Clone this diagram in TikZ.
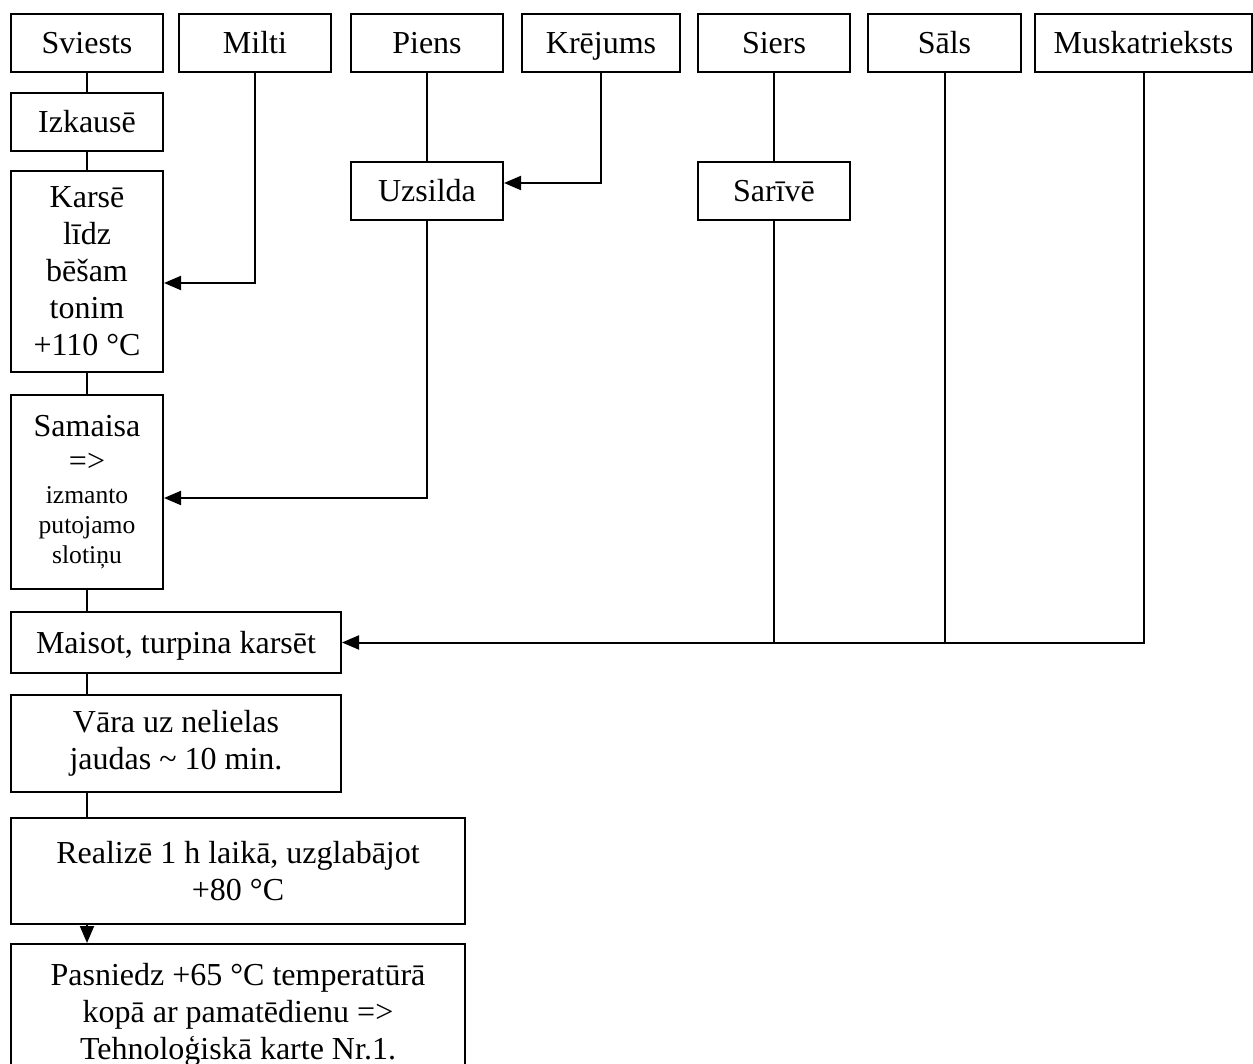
\documentclass[tikz,border=0pt]{standalone}
\usepackage{fontspec}
\setmainfont{Liberation Serif}
\usetikzlibrary{arrows.meta,calc}
\tikzset{
  blk/.style={draw, line width=1pt, inner sep=0pt, align=center,
    font=\fontsize{16}{18.5}\selectfont},
  ing/.style={blk, minimum height=29pt, text height=13pt, text depth=2pt},
  lnk/.style={line width=1pt},
  arr/.style={line width=1pt, -{Triangle[length=8.5pt,width=7pt]}},
}
\newcommand{\smtxt}{\fontsize{12.8}{15}\selectfont}

\begin{document}
\begin{tikzpicture}[x=0.5pt,y=-0.5pt]
\useasboundingbox (0,0) rectangle (1253,1064);
%% top row
\node[ing, minimum width=76pt] (sv) at (87,43) {Sviests};
\node[ing, minimum width=76pt] (mi) at (255,43) {Milti};
\node[ing, minimum width=76pt] (pi) at (427,43) {Piens};
\node[ing, minimum width=79pt] (kr) at (601,43) {Krējums};
\node[ing, minimum width=76pt] (si) at (774,43) {Siers};
\node[ing, minimum width=76.5pt] (sa) at (944.5,43) {Sāls};
\node[ing, minimum width=108.5pt] (mu) at (1143.5,43) {Muskatrieksts};
%% second level
\node[ing, minimum width=76pt] (iz) at (87,122) {Izkausē};
\node[ing, minimum width=76pt] (uz) at (427,191) {Uzsilda};
\node[ing, minimum width=76pt] (sr) at (774,191) {Sarīvē};
%% main column
\node[blk, minimum width=76pt, minimum height=100.5pt] (ka) at (87,271.5)
  {Karsē\\ līdz\\ bēšam\\ tonim\\ +110 °C};
\node[blk, minimum width=76pt, minimum height=97pt] (sm) at (87,492)
  {Samaisa\\[-1pt] =>\\[-2.5pt] {\smtxt izmanto}\\[-3.5pt] {\smtxt putojamo}\\[-3.5pt] {\smtxt slotiņu}};
\node[ing, minimum width=165pt, minimum height=30.5pt] (ma) at (176,642.5) {Maisot, turpina karsēt};
\node[blk, minimum width=165pt, minimum height=48.5pt] (va) at (176,743.5)
  {Vāra uz nelielas\\ jaudas \textasciitilde{} 10 min.};
\node[blk, minimum width=227pt, minimum height=53pt] (re) at (238,871)
  {Realizē 1 h laikā, uzglabājot\\ +80 °C};
\node[blk, minimum width=227pt, minimum height=70.5pt] (pa) at (238,1014.5)
  {Pasniedz +65 °C temperatūrā\\ kopā ar pamatēdienu =>\\ Tehnoloģiskā karte Nr.1.};
%% links down the main column
\draw[lnk] (sv.south) -- (iz.north);
\draw[lnk] (iz.south) -- (ka.north);
\draw[lnk] (ka.south) -- (sm.north);
\draw[lnk] (sm.south) -- (sm.south |- ma.north);
\draw[lnk] (sm.south |- ma.south) -- (sm.south |- va.north);
\draw[lnk] (sm.south |- va.south) -- (sm.south |- re.north);
\draw[arr] (sm.south |- re.south) -- (sm.south |- pa.north);
%% side inputs
\draw[arr] (mi.south) |- ([yshift=-5.75pt]ka.east);
\draw[lnk] (pi.south) -- (uz.north);
\draw[arr] (kr.south) |- ([yshift=4pt]uz.east);
\draw[arr] (uz.south) |- ([yshift=-3pt]sm.east);
\draw[lnk] (si.south) -- (sr.north);
\draw[arr] (sr.south) |- (ma.east);
\draw[lnk] (sa.south) |- (sr.south |- ma.east);
\draw[lnk] (mu.south) |- (sa.south |- ma.east);
\end{tikzpicture}
\end{document}
